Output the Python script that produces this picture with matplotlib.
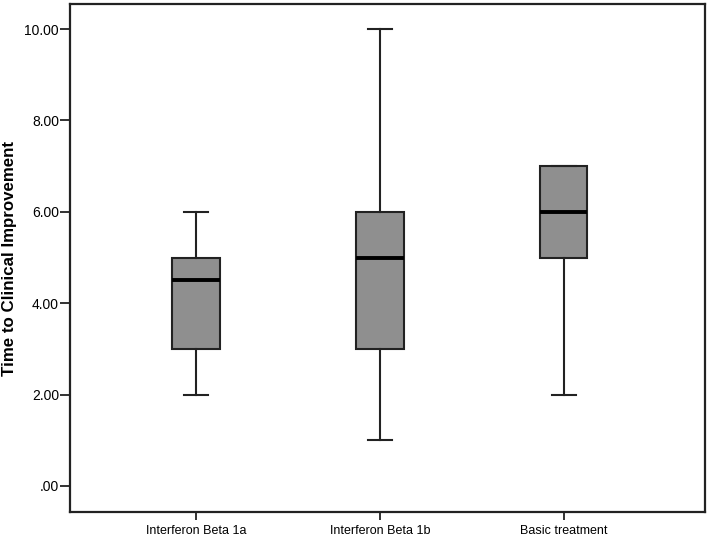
import numpy as np
import matplotlib
matplotlib.use('Agg')
import matplotlib.pyplot as plt
from matplotlib.ticker import FuncFormatter

plt.rcParams['font.family'] = ['Liberation Sans', 'DejaVu Sans']

groups = ['Interferon Beta 1a', 'Interferon Beta 1b', 'Basic treatment']
whislo = [2.0, 1.0, 2.0]
q1 = [3.0, 3.0, 5.0]
med = [4.5, 5.0, 6.0]
q3 = [5.0, 6.0, 7.0]
whishi = [6.0, 10.0, 7.0]

stats = []
for i, g in enumerate(groups):
    stats.append(dict(label=g, whislo=whislo[i], q1=q1[i], med=med[i],
                      q3=q3[i], whishi=whishi[i], fliers=[]))

fig = plt.figure(figsize=(7.08, 5.36), dpi=100)
ax = fig.add_axes([70/708, 24/536, 635/708, 508/536])

ax.bxp(stats, positions=[1, 2, 3], widths=0.26, patch_artist=True,
       showfliers=False,
       boxprops=dict(facecolor='#8f8f8f', edgecolor='#222222', linewidth=1.5),
       medianprops=dict(color='black', linewidth=2.8),
       whiskerprops=dict(color='#222222', linewidth=1.5),
       capprops=dict(color='#222222', linewidth=1.5),
       capwidths=0.13)

ax.set_xlim(0.313, 3.77)
ax.set_ylim(-0.57, 10.55)
ax.set_yticks([0, 2, 4, 6, 8, 10])
ax.yaxis.set_major_formatter(FuncFormatter(lambda v, p: ('%.2f' % v).lstrip('0') if v == 0 else '%.2f' % v))
ax.set_xticks([1, 2, 3])
ax.set_xticklabels(groups)
ax.tick_params(axis='x', labelsize=9, length=6, width=1.3, color='#222222')
ax.tick_params(axis='y', labelsize=10, length=7, width=1.3, color='#222222', pad=1)
ax.set_ylabel('Time to Clinical Improvement', fontsize=12.2, fontweight='bold')
ax.yaxis.set_label_coords(-0.083, 0.5)

for s in ax.spines.values():
    s.set_linewidth(1.6)
    s.set_color('#222222')

fig.savefig('out.png', dpi=100)
